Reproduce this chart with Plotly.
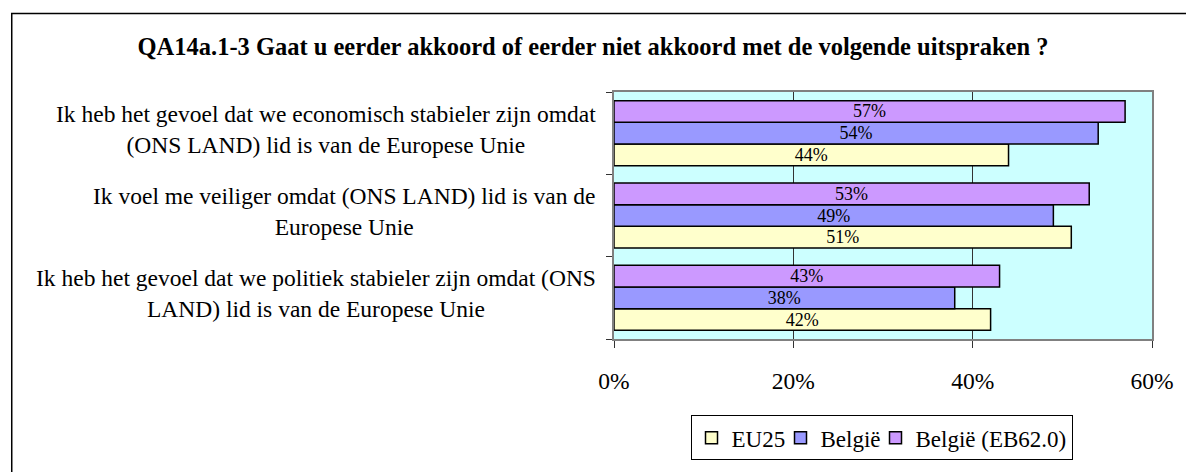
import plotly.graph_objects as go

categories = [
    "Ik heb het gevoel dat we politiek stabieler zijn omdat (ONS<br>LAND) lid is van de Europese Unie",
    "Ik voel me veiliger omdat (ONS LAND) lid is van de<br>Europese Unie",
    "Ik heb het gevoel dat we economisch stabieler zijn omdat<br>(ONS LAND) lid is van de Europese Unie",
]
cat_keys = ["politiek", "veiliger", "economisch"]
series_names = ["EU25", "België", "België (EB62.0)"]
eu25 = [42, 51, 44]
belgie = [38, 49, 54]
belgie_eb62 = [43, 53, 57]
series_values = [eu25, belgie, belgie_eb62]
colors = ["#FFFFCC", "#9999FF", "#CC99FF"]
legend_widths = [44, 50, None]
x_ticks = [0, 20, 40, 60]
x_tick_labels = ["0%", "20%", "40%", "60%"]

FONT = "Liberation Serif, Times New Roman, serif"
W, H = 1186, 472
ML, MR, MT, MB = 614, 32, 92, 125
PW, PH = W - ML - MR, H - MT - MB

fig = go.Figure()
for name, vals, col, lw in zip(series_names, series_values, colors, legend_widths):
    kw = {}
    if lw:
        kw["legendwidth"] = lw
    fig.add_trace(go.Bar(
        y=cat_keys, x=vals, name=name, orientation="h",
        marker=dict(color=col, line=dict(color="black", width=1.5)),
        text=[f"{v}%" for v in vals], textposition="inside",
        insidetextanchor="middle", constraintext="none",
        textfont=dict(family=FONT, size=18, color="black"),
        hoverinfo="skip", **kw,
    ))

# category labels (center-aligned multi-line)
for key, lab in zip(cat_keys, categories):
    fig.add_annotation(
        x=0, xref="paper", xanchor="right", xshift=-16,
        y=key, yref="y", yanchor="middle", yshift=4,
        text=lab, align="center", showarrow=False,
        font=dict(family=FONT, size=23.5, color="black"),
    )


def px_to_paper_x(px):
    return (px - ML) / PW


def px_to_paper_y(py):
    return (H - MB - py) / PH


# outer frame
fig.add_shape(type="rect", xref="paper", yref="paper",
              x0=px_to_paper_x(9.5), x1=px_to_paper_x(1210),
              y0=px_to_paper_y(490), y1=px_to_paper_y(11),
              line=dict(color="black", width=1.5), fillcolor="rgba(0,0,0,0)",
              layer="below")

fig.update_layout(
    width=W, height=H,
    font=dict(family=FONT, color="black"),
    margin=dict(l=ML, r=MR, t=MT, b=MB, pad=0),
    paper_bgcolor="white", plot_bgcolor="#CCFFFF",
    barmode="group", bargap=0.21, bargroupgap=0,
    title=dict(
        text="<b>QA14a.1-3 Gaat u eerder akkoord of eerder niet akkoord met de volgende uitspraken ?</b>",
        x=593 / W, xanchor="center", xref="container",
        y=1 - 46 / H, yanchor="middle", yref="container",
        font=dict(family=FONT, size=24.5, color="black"),
    ),
    xaxis=dict(
        range=[0, 60], tickvals=x_ticks, ticktext=x_tick_labels,
        ticks="outside", ticklen=7, tickcolor="#333333", tickwidth=1,
        showgrid=True, gridcolor="#333333", gridwidth=1,
        showline=True, linecolor="#808080", linewidth=1.5, mirror=True,
        zeroline=False,
        tickfont=dict(family=FONT, size=23.5, color="black"),
        ticklabelstandoff=13,
        fixedrange=True,
    ),
    yaxis=dict(
        categoryorder="array", categoryarray=cat_keys,
        showticklabels=False, ticks="outside", ticklen=6, tickcolor="#333333",
        tickson="boundaries",
        showgrid=False, showline=True, linecolor="#808080", linewidth=1.5, mirror=True,
        fixedrange=True,
    ),
    legend=dict(
        orientation="h", x=px_to_paper_x(882.5), xanchor="center",
        y=px_to_paper_y(449), yanchor="middle",
        bordercolor="black", borderwidth=1, bgcolor="white",
        font=dict(family=FONT, size=23, color="black"),
        traceorder="normal", itemwidth=30,
    ),
    showlegend=True,
)

fig.write_html("out.html", config={"displayModeBar": False},
               post_script="document.body.style.margin='0';")
